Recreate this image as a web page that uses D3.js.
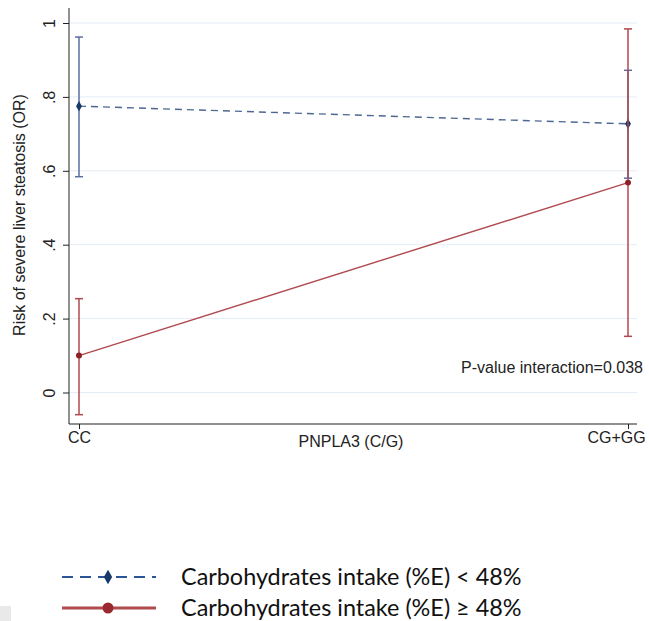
<!DOCTYPE html>
<html>
<head>
<meta charset="utf-8">
<script src="https://cdn.jsdelivr.net/npm/d3@7"></script>
<style>
  body { margin: 0; background: #fff; }
  svg { display: block; }
</style>
</head>
<body>
<script>
// categories and values
var genotypes = ["CC", "CG+GG"];
var yTicks = [0, 0.2, 0.4, 0.6, 0.8, 1];
var yTickLabels = ["0", ".2", ".4", ".6", ".8", "1"];

var lowOR = [0.775, 0.727];
var lowLo = [0.584, 0.580];
var lowHi = [0.962, 0.872];

var highOR = [0.100, 0.568];
var highLo = [-0.060, 0.152];
var highHi = [0.254, 0.984];

var seriesNames = ["Carbohydrates intake (%E) < 48%", "Carbohydrates intake (%E) \u2265 48%"];

var width = 649, height = 621;
var axisFont = "'Liberation Sans', Arial, sans-serif";

var svg = d3.select("body").append("svg")
    .attr("width", width)
    .attr("height", height);

var x = d3.scalePoint()
    .domain(genotypes)
    .range([79, 628]);

var y = d3.scaleLinear()
    .domain([0, 1])
    .range([392.5, 23]);

var plotLeft = 69, plotRight = 637, plotBottom = 424;

// light gridlines
svg.append("g")
    .selectAll("line")
    .data(yTicks)
    .enter().append("line")
    .attr("x1", plotLeft)
    .attr("x2", plotRight)
    .attr("y1", d => y(d))
    .attr("y2", d => y(d))
    .attr("stroke", "#e4edf5")
    .attr("stroke-width", 1);

// y axis
var yAxis = d3.axisLeft(y)
    .tickValues(yTicks)
    .tickFormat((d, i) => yTickLabels[i])
    .tickSize(6);

var gy = svg.append("g")
    .attr("transform", "translate(" + plotLeft + ",0)")
    .call(yAxis);
gy.select(".domain").remove();
gy.append("line")
    .attr("x1", 0).attr("x2", 0)
    .attr("y1", 8).attr("y2", plotBottom)
    .attr("stroke", "#222");
gy.selectAll(".tick line").attr("stroke", "#222");
gy.selectAll(".tick text")
    .attr("font-family", axisFont)
    .attr("font-size", 16)
    .attr("fill", "#222")
    .attr("x", null)
    .attr("text-anchor", "middle")
    .attr("transform", "translate(-20,0) rotate(-90)")
    .attr("y", 0)
    .attr("dy", "0.35em");

// x axis
var xAxis = d3.axisBottom(x).tickSize(5).tickPadding(3);
var gx = svg.append("g")
    .attr("transform", "translate(0," + plotBottom + ")")
    .call(xAxis);
gx.select(".domain").remove();
gx.append("line")
    .attr("x1", plotLeft).attr("x2", plotRight)
    .attr("y1", 0).attr("y2", 0)
    .attr("stroke", "#222");
gx.selectAll(".tick line").attr("stroke", "#222");
gx.selectAll(".tick text")
    .attr("font-family", axisFont)
    .attr("font-size", 16)
    .attr("fill", "#222");
gx.selectAll(".tick text").filter(d => d === "CG+GG").attr("x", -12);

// axis titles
svg.append("text")
    .attr("x", 351)
    .attr("y", 447)
    .attr("text-anchor", "middle")
    .attr("font-family", axisFont)
    .attr("font-size", 16)
    .attr("fill", "#222")
    .text("PNPLA3 (C/G)");

svg.append("text")
    .attr("transform", "translate(25,215) rotate(-90)")
    .attr("text-anchor", "middle")
    .attr("font-family", axisFont)
    .attr("font-size", 16)
    .attr("fill", "#222")
    .text("Risk of severe liver steatosis (OR)");

svg.append("text")
    .attr("x", 643)
    .attr("y", 373)
    .attr("text-anchor", "end")
    .attr("font-family", axisFont)
    .attr("font-size", 16)
    .attr("fill", "#222")
    .text("P-value interaction=0.038");

// series drawing
function drawSeries(or, lo, hi, lineColor, barColor, markColor, dash, marker) {
    var g = svg.append("g");
    g.selectAll(".bar")
        .data(genotypes)
        .enter().append("line")
        .attr("x1", d => x(d)).attr("x2", d => x(d))
        .attr("y1", (d, i) => y(lo[i])).attr("y2", (d, i) => y(hi[i]))
        .attr("stroke", barColor)
        .attr("stroke-width", 1.5);
    [lo, hi].forEach(function (arr) {
        g.selectAll(null)
            .data(genotypes)
            .enter().append("line")
            .attr("x1", d => x(d) - 4).attr("x2", d => x(d) + 4)
            .attr("y1", (d, i) => y(arr[i])).attr("y2", (d, i) => y(arr[i]))
            .attr("stroke", barColor)
            .attr("stroke-width", 1.5);
    });
    var line = d3.line()
        .x((d, i) => x(genotypes[i]))
        .y(d => y(d));
    g.append("path")
        .datum(or)
        .attr("d", line)
        .attr("fill", "none")
        .attr("stroke", lineColor)
        .attr("stroke-width", 1.4)
        .attr("stroke-dasharray", dash);
    g.selectAll(".pt")
        .data(or)
        .enter().append("path")
        .attr("d", d3.symbol().type(marker).size(marker === d3.symbolDiamond ? 30 : 28))
        .attr("transform", (d, i) => "translate(" + x(genotypes[i]) + "," + y(d) + ")")
        .attr("fill", markColor);
}

drawSeries(lowOR, lowLo, lowHi, "#4d6790", "#5a6ea3", "#173a6b", "7,5", d3.symbolDiamond);
drawSeries(highOR, highLo, highHi, "#b04a4f", "#b0484d", "#8e1f27", null, d3.symbolCircle);

// legend
var legendY = [577, 608];
var legend = svg.append("g");
legend.append("line")
    .attr("x1", 62).attr("x2", 156)
    .attr("y1", legendY[0]).attr("y2", legendY[0])
    .attr("stroke", "#2c5597")
    .attr("stroke-width", 2)
    .attr("stroke-dasharray", "11,7");
legend.append("path")
    .attr("d", d3.symbol().type(d3.symbolDiamond).size(60))
    .attr("transform", "translate(108," + legendY[0] + ")")
    .attr("fill", "#173a6b");
legend.append("line")
    .attr("x1", 62).attr("x2", 156)
    .attr("y1", legendY[1]).attr("y2", legendY[1])
    .attr("stroke", "#b04a4f")
    .attr("stroke-width", 3);
legend.append("circle")
    .attr("cx", 108).attr("cy", legendY[1])
    .attr("r", 5.5)
    .attr("fill", "#9b2a30");
legend.selectAll("text")
    .data(seriesNames)
    .enter().append("text")
    .attr("x", 181)
    .attr("y", (d, i) => legendY[i])
    .attr("dy", "0.35em")
    .attr("font-family", "Lato, 'Open Sans', sans-serif")
    .attr("font-size", 23.4)
    .attr("fill", "#111")
    .text(d => d);

// small grey patch at bottom-left corner
svg.append("rect")
    .attr("x", 0).attr("y", 606)
    .attr("width", 11).attr("height", 15)
    .attr("fill", "#e9e9e9");
</script>
</body>
</html>
